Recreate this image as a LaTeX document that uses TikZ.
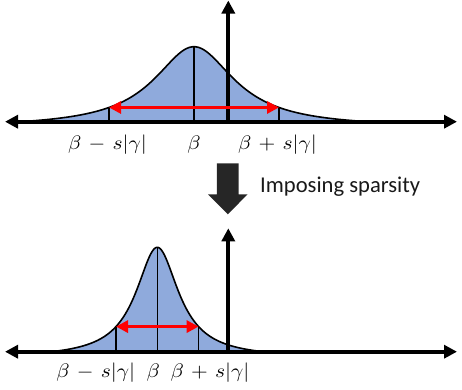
\documentclass[tikz,border=0pt]{standalone}
\usepackage{fontspec}
\usepackage{graphicx}
\newfontfamily\carlito{Carlito}
\usetikzlibrary{arrows.meta}
\definecolor{bellblue}{HTML}{8FAADC}
\definecolor{blockgray}{HTML}{262626}
\newcommand\mlab[1]{\scalebox{2.15}[1.95]{$\medmuskip=6mu #1$}}
\tikzset{
  haxis/.style={line width=4pt, {Triangle[length=13pt,width=13pt]}-{Triangle[length=13pt,width=13pt]}},
  vaxis/.style={line width=4pt, -{Triangle[length=13pt,width=13pt]}},
  bell/.style={draw=black, line width=1.6pt, fill=bellblue, line join=round},
  tickline/.style={line width=1.6pt},
  spread/.style={draw=red, line width=3.5pt, {Triangle[length=12pt,width=12pt]}-{Triangle[length=12pt,width=12pt]}},
  lbl/.style={anchor=base, inner sep=0pt},
  block/.style={fill=blockgray},
  declare function={ftop(\d)=75*(1/(1+(\d/49)^2)-0.0735)/0.9265;
                    fbot(\d)=104.4*(1/(1+(\d/26)^2)-0.0568)/0.9432;}
}
\begin{document}
\begin{tikzpicture}[x=1pt,y=-1pt]
\useasboundingbox (0,0) rectangle (462,389);
% ---------- top panel ----------
\coordinate (tL) at (5,121.7);
\coordinate (tR) at (457,121.7);
\coordinate (tO) at (228.3,121.7);
\coordinate (tT) at (228.3,0.5);
\path[bell] plot[domain=-174:174, samples=241, smooth] ({194+\x},{121.7-ftop(\x)}) -- cycle;
\coordinate (tA) at (109,{121.7-ftop(-85)});
\coordinate (tB) at (279,{121.7-ftop(85)});
\coordinate (tP) at (194,{121.7-ftop(0)});
\draw[tickline] (tA) -- (tA |- tL);
\draw[tickline] (tP) -- (tP |- tL);
\draw[tickline] (tB) -- (tB |- tL);
\draw[haxis] (tL) -- (tR);
\draw[vaxis] (tO) -- (tT);
\draw[spread] (tA) -- (tB);
\node[lbl] (tl1) at (107.5,149.5) {\mlab{\beta - s|\gamma|}};
\node[lbl] (tl2) at (194,149.5) {\mlab{\beta}};
\node[lbl] (tl3) at (277.5,149.5) {\mlab{\beta + s|\gamma|}};
% ---------- block arrow ----------
\fill[block] (216.9,163.3) -- (238.7,163.3) -- (238.7,194.3) -- (247.6,194.3)
  -- (227.8,214.3) -- (208.0,194.3) -- (216.9,194.3) -- cycle;
\node[anchor=base west, inner sep=0pt, font=\carlito\fontsize{22.6}{25}\selectfont, text=black!90] (txt) at (260,192.7) {Imposing sparsity};
% ---------- bottom panel ----------
\coordinate (bL) at (5,351.7);
\coordinate (bR) at (457,351.7);
\coordinate (bO) at (228.3,351.7);
\coordinate (bT) at (228.3,228.3);
\path[bell] plot[domain=-106:106, samples=241, smooth] ({157.3+\x},{351.7-fbot(\x)}) -- cycle;
\coordinate (bA) at (116,{351.7-fbot(-41.3)});
\coordinate (bB) at (198.6,{351.7-fbot(41.3)});
\coordinate (bP) at (157.3,{351.7-fbot(0)});
\draw[tickline] (bA) -- (bA |- bL);
\draw[tickline] (bP) -- (bP |- bL);
\draw[tickline] (bB) -- (bB |- bL);
\draw[haxis] (bL) -- (bR);
\draw[vaxis] (bO) -- (bT);
\draw[spread] (bA) -- (bB);
\node[lbl] (bl1) at (95.8,377.5) {\mlab{\beta - s|\gamma|}};
\node[lbl] (bl2) at (153.3,377.5) {\mlab{\beta}};
\node[lbl] (bl3) at (210,377.5) {\mlab{\beta + s|\gamma|}};
\end{tikzpicture}
\end{document}
